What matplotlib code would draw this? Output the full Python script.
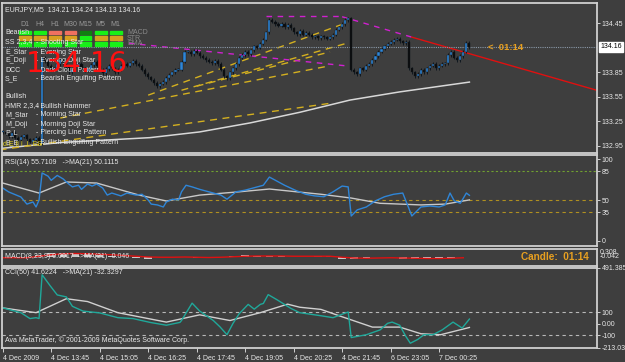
import matplotlib
matplotlib.use("Agg")
import numpy as np
import matplotlib.pyplot as plt
from matplotlib import font_manager

# ---- data ----
closes = [133.12, 133.10, 133.07, 133.11, 133.05, 133.02, 133.06, 133.08, 133.03, 133.00,
          133.02, 133.05, 132.98, 134.03, 133.98, 133.93, 133.88, 133.90, 133.95, 134.00,
          133.96, 133.91, 133.85, 133.88, 133.93, 133.95, 133.90, 133.87, 133.89, 133.94,
          133.98, 133.93, 133.88, 133.84, 133.89, 133.93, 133.90, 133.85, 133.88, 133.93,
          133.95, 133.93, 133.96, 133.99, 133.95, 133.93, 133.88, 133.83, 133.79, 133.76,
          133.72, 133.68, 133.71, 133.73, 133.78, 133.82, 133.85, 133.88, 133.88, 133.98,
          134.10, 134.10, 134.07, 134.11, 134.09, 134.05, 134.03, 134.00, 133.98, 133.96,
          133.99, 133.95, 133.88, 133.80, 133.78, 133.85, 133.90, 133.95, 134.03, 134.06,
          134.10, 134.07, 134.12, 134.17, 134.15, 134.20, 134.25, 134.34, 134.49, 134.47,
          134.44, 134.42, 134.44, 134.40, 134.43, 134.39, 134.34, 134.32, 134.36, 134.31,
          134.33, 134.31, 134.28, 134.29, 134.27, 134.29, 134.28, 134.26, 134.28, 134.31,
          134.37, 134.40, 134.44, 134.49, 134.51, 133.88, 133.85, 133.83, 133.90, 133.88,
          133.93, 133.95, 134.00, 134.05, 134.10, 134.14, 134.17, 134.20, 134.22, 134.25,
          134.26, 134.23, 134.21, 134.22, 133.90, 133.85, 133.80, 133.83, 133.88, 133.85,
          133.90, 133.93, 133.95, 133.90, 133.93, 133.95, 133.96, 134.06, 134.10, 134.03,
          134.00, 134.05, 134.10, 134.21, 134.16]
last_open = 134.21

ma_bars = [0, 19, 48.6, 65, 81.6, 98, 114.6, 131, 154]
ma_vals = [132.92, 132.99, 133.05, 133.12, 133.23, 133.36, 133.51, 133.61, 133.73]

rsi_bars = [0, 2, 6, 8, 10, 11, 12, 13, 15, 16, 18, 20, 21, 23, 25, 26, 28, 29.5, 31, 33,
            34.5, 36, 39, 41, 44, 46, 48, 49, 51, 53, 54, 56, 58, 59, 60.5, 62.5, 65, 68, 72,
            74, 77, 80, 83, 86, 88, 90, 93, 96.5, 100, 103, 106, 109, 112, 114, 115, 117, 120,
            123, 126, 129, 132, 134, 135, 138, 141, 144, 146, 147.6, 149, 151, 153, 154]
rsi_vals = [64.6, 59.8, 53.7, 45, 47.6, 41.5, 50, 83, 79, 74, 80, 75.6, 72, 66, 68, 63, 69.5,
            67, 69.5, 64.6, 56, 58.5, 55, 58.5, 56, 57, 50, 45, 44, 41.5, 47.6, 51, 50, 60,
            68, 66, 63, 60, 56, 51, 60, 62, 65, 68, 78, 74, 68, 62, 57, 55, 54, 60, 67, 66,
            30.5, 38, 41.5, 49, 54, 57, 58.5, 40, 30.5, 41.5, 42.7, 41.5, 44, 58.5, 49, 46,
            58.5, 55.71]
rsi_ma_bars = [0, 12, 21, 31, 45, 54, 65, 78, 88, 105, 115, 124.5, 138, 146, 154]
rsi_ma_vals = [70.7, 58.5, 72, 70.7, 56, 48.8, 56, 60, 63.4, 57, 52.4, 46, 44, 45, 50.11]

cci_bars = [0, 6, 9, 11, 12, 13, 15.6, 18, 21, 23, 26.5, 32, 38, 43, 48.6, 54, 58.5, 59,
            62.5, 65, 69.5, 71.7, 74, 76, 78, 81, 83, 85, 86, 87.6, 90.5, 95, 98, 105, 109,
            114, 115, 120, 124.5, 127, 128.5, 131, 133, 134.5, 137, 139, 142, 145, 148.6,
            151.6, 154]
cci_vals = [140, 98, 46, 54, 46, 432, 337, 254, 237, 154, 112, 96, 54, 46, 12.5, -12.5,
            12.5, 29, 182, 112, 29, -27, -96, 4, 87.5, 171, 129, 171, 179, 257, 212, 137,
            98, 71, 54, 104, -121, -96, -54, 4, 15, -12.5, -110, -171, -137, -96, -96, -54,
            15, -37.5, 41.62]
cci_ma_bars = [0, 11, 21, 28, 38, 54, 65, 75, 85, 94, 98, 105, 111, 122, 131, 138, 144.5, 154]
cci_ma_vals = [140, 98, 221, 196, 98, 15, 79, 29, 98, 173, 146, 127, 71, -29, -29, -87.5, -96, -32.33]

macd_bars = list(range(0, 155, 4))
macd_hist = [-0.02, -0.03, -0.02, 0.10, 0.16, 0.18, 0.15, 0.12, 0.10, 0.06, 0.02, -0.02,
             -0.05, 0.00, 0.02, 0.01, -0.03, -0.02, 0.03, 0.06, 0.08, 0.07, 0.05, 0.04,
             0.03, 0.02, 0.04, 0.06, -0.08, -0.06, -0.02, 0.02, 0.03, -0.06, -0.08, -0.06,
             -0.04, -0.01, 0.02]
macd_sig = [-0.02, -0.02, -0.02, 0.04, 0.10, 0.14, 0.15, 0.14, 0.12, 0.10, 0.07, 0.04,
            0.01, 0.00, 0.00, 0.01, 0.00, -0.01, 0.00, 0.02, 0.04, 0.05, 0.05, 0.05,
            0.04, 0.04, 0.04, 0.04, 0.00, -0.03, -0.04, -0.03, -0.02, -0.03, -0.04, -0.05,
            -0.05, -0.04, -0.02]

time_ticks = [0, 16, 32, 48, 64, 80, 96, 112, 128, 144]
time_labels = ["4 Dec 2009", "4 Dec 13:45", "4 Dec 15:05", "4 Dec 16:25", "4 Dec 17:45",
               "4 Dec 19:05", "4 Dec 20:25", "4 Dec 21:45", "6 Dec 23:05", "7 Dec 00:25"]
price_ticks = [134.45, 133.85, 133.55, 133.25, 132.95]
last_price = 134.16

# trend lines as (bar, price) pairs
yellow_lines = [((-1, 132.90), (108, 133.47)),
                ((19, 133.29), (108, 133.93)),
                ((48, 133.57), (113, 134.45)),
                ((59, 133.63), (113, 134.20)),
                ((64, 133.68), (108, 134.10))]
magenta_dash = [((38, 134.22), (113, 133.93)),
                ((87, 134.54), (112, 134.54)),
                ((112, 134.53), (135, 134.28))]
red_line = ((135, 134.28), (196, 133.63))

W, H = 625, 362
BG = "#3e3e3e"
FG = "#e8e8e8"
FS = 5
plt.rcParams['font.family'] = ['Liberation Sans', 'DejaVu Sans']
names = {f.name for f in font_manager.fontManager.ttflist}
if "Liberation Sans Narrow" in names:
    big_font, big_size = "Liberation Sans Narrow", 27
else:
    big_font, big_size = "DejaVu Sans", 21


def fx(x):
    return x / W


def fy(y):
    return 1 - y / H


def panel(top, bottom):
    ax = fig.add_axes([fx(2), fy(bottom), (597 - 2) / W, (bottom - top) / H])
    ax.set_facecolor(BG)
    for s in ax.spines.values():
        s.set_color("#d0d0d0")
        s.set_linewidth(1.3)
    ax.set_xlim(-0.23, 196.1)
    ax.yaxis.tick_right()
    ax.tick_params(axis='y', colors=FG, labelsize=FS, length=2, pad=1.5, width=0.6)
    ax.tick_params(axis='x', bottom=False, labelbottom=False)
    return ax


fig = plt.figure(figsize=(6.25, 3.62), dpi=100, facecolor=BG)

# ---- main price panel ----
ax = panel(3, 153)
ax.set_ylim(132.862, 134.698)
ax.set_yticks(price_ticks)
ax.set_yticklabels([f"{p:.2f}" for p in price_ticks])

ax.plot(ma_bars, ma_vals, color="#d8d8d8", lw=1.1)
for (x0, y0), (x1, y1) in yellow_lines:
    ax.plot([x0, x1], [y0, y1], color="#d4b020", lw=1.0, ls=(0, (5, 4)))
for (x0, y0), (x1, y1) in magenta_dash:
    ax.plot([x0, x1], [y0, y1], color="#d020d0", lw=1.0, ls=(0, (4, 4)))
ax.plot([red_line[0][0], red_line[1][0]], [red_line[0][1], red_line[1][1]], color="#e01010", lw=1.0)
ax.axhline(last_price, color="#8a98a8", lw=0.8, ls=(0, (1, 1)))

opens = [closes[0]] + closes[:-1]
opens[-1] = last_open
for i, (o, c) in enumerate(zip(opens, closes)):
    up = c >= o
    ax.vlines(i, min(o, c) - 0.02, max(o, c) + 0.02, color="#101820", lw=0.7, zorder=3)
    h = abs(c - o) if abs(c - o) > 0.006 else 0.006
    ax.bar(i, h, bottom=min(o, c), width=0.7,
           color="#2f86d8" if up else "#0c0c0c", edgecolor="#101820", lw=0.3, zorder=4)

# price tag on right axis
fig.text(fx(600), fy(47), f"{last_price:.2f}", color="black", fontsize=FS, va="center",
         bbox=dict(boxstyle="square,pad=0.2", fc="white", ec="white"))
fig.text(fx(488), fy(47), "<  01:14", color="#e8a020", fontsize=6.8, fontweight="bold", va="center")

# header and pattern legend
fig.text(fx(5), fy(10), "EURJPY,M5  134.21 134.24 134.13 134.16", color=FG, fontsize=FS, va="center")
tfs = ["D1", "H4", "H1", "M30", "M15", "M5", "M1"]
row_cols = [["#18f018", "#18f018", "#f07060", "#f07060", "#108010", "#18f018", "#18f018"],
            ["#d8a020", "#d8a020", "#d8a020", "#d8a020", "#18f018", "#d8a020", "#d8a020"],
            ["#18f018", "#18f018", "#18f018", "#18f018", "#18f018", "#18f018", "#18f018"]]
for j, tf in enumerate(tfs):
    x = 19 + 15.2 * j
    fig.text(fx(x + 5.5), fy(25), tf, color="#9a9a9a", fontsize=FS, ha="center", va="center")
    for r, cols in enumerate(row_cols):
        top = 30.8 + 5.6 * r
        fig.patches.append(plt.Rectangle((fx(x), fy(top + 3.6)), 11.5 / W, 3.6 / H,
                                         transform=fig.transFigure, color=cols[j]))
for r, lab in enumerate(["MACD", "STR", "EMA"]):
    fig.text(fx(127), fy(32.5 + 5.6 * r), lab, color="#8a8a8a", fontsize=FS, va="center")

legend_rows = [(33, "Bearish", ""), (42, "SS 2,3,4", "- Shooting Star"),
               (52, "E_Star", "- Evening Star"), (61, "E_Doji", "- Evening Doji Star"),
               (70, "DCC", "- Dark Cloud Pattern"), (79, "S_E", "- Bearish Engulfing Pattern"),
               (97, "Bullish", ""), (106, "HMR 2,3,4", "- Bullish Hammer"),
               (115, "M_Star", "- Morning Star"), (124, "M_Doji", "- Morning Doji Star"),
               (133, "P_L", "- Piercing Line Pattern"), (143, "B_E", "- Bullish Engulfing Pattern")]
for y, a, b in legend_rows:
    fig.text(fx(5), fy(y), a, color=FG, fontsize=FS, va="center")
    if b:
        fig.text(fx(36), fy(y), b, color=FG, fontsize=FS, va="center")
fig.text(fx(3), fy(145), "d.E ll I  I  ES", color="#e0d020", fontsize=FS, va="center")

fig.text(fx(26), fy(64), "134.16", color="#ff1010", fontsize=big_size, family=big_font, va="center")

# ---- RSI panel ----
ax2 = panel(155, 246)
ax2.set_ylim(-6.1, 104.9)
ax2.set_yticks([100, 85, 50, 35, 0])
ax2.axhline(85, color="#70a030", lw=0.8, ls=(0, (2, 2)))
for lv in (50, 35):
    ax2.axhline(lv, color="#b09020", lw=0.8, ls=(0, (3, 3)))
ax2.plot(rsi_ma_bars, rsi_ma_vals, color="#c8c8c8", lw=1.0)
ax2.plot(rsi_bars, rsi_vals, color="#2f86d8", lw=1.0)
fig.text(fx(5), fy(162), "RSI(14) 55.7109   ->MA(21) 50.1115", color=FG, fontsize=FS, va="center")

# ---- MACD panel ----
ax3 = panel(249, 266)
ax3.set_ylim(-0.35, 0.33)
ax3.set_yticks([])
ax3.bar(macd_bars, macd_hist, width=2.5, color="#c8c8c8")
ax3.plot(macd_bars, macd_sig, color="#e01010", lw=1.0)
fig.text(fx(5), fy(257), "MACD(8,23,9) 0.0017  ->MA(21) -0.046", color=FG, fontsize=FS, va="center")
fig.text(fx(600), fy(252), "0.308", color=FG, fontsize=FS, va="center")
fig.text(fx(600), fy(256.5), "-0.042", color=FG, fontsize=FS, va="center")
fig.text(fx(589), fy(257), "Candle:  01:14", color="#e8a020", fontsize=7.2, fontweight="bold",
         ha="right", va="center")

# ---- CCI panel ----
ax4 = panel(268, 348)
ax4.set_ylim(-213.031, 491.385)
ax4.set_yticks([491.385, 100, 0, -100, -213.031])
ax4.set_yticklabels(["491.385", "100", "0.00", "-100", "-213.031"])
for lv in (100, -100):
    ax4.axhline(lv, color="#b8b8b8", lw=0.8, ls=(0, (3, 3)))
ax4.plot(cci_ma_bars, cci_ma_vals, color="#d0d0d0", lw=1.0)
ax4.plot(cci_bars, cci_vals, color="#20a89a", lw=1.0)
fig.text(fx(5), fy(272), "CCI(50) 41.6224   ->MA(21) -32.3297", color=FG, fontsize=FS, va="center")
fig.text(fx(5), fy(340), "Ava MetaTrader, \u00a9 2001-2009 MetaQuotes Software Corp.", color=FG,
         fontsize=FS, va="center")
ax4.set_xticks(time_ticks)
ax4.set_xticklabels(time_labels, ha="left")
ax4.tick_params(axis='x', bottom=True, labelbottom=True, colors=FG, labelsize=FS,
                length=3, pad=2, width=0.6)

fig.savefig("out.png", dpi=100, facecolor=BG)
